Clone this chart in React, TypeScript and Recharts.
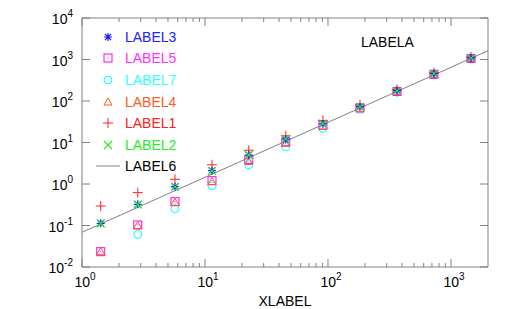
import React from "react";
import {
  Scatter,
  ScatterChart,
  XAxis,
  YAxis,
  Label,
} from "recharts";

const xValues = [1.42, 2.84, 5.7, 11.4, 22.7, 45.4, 91, 182, 364, 727, 1455];

const label3 = [0.113, 0.324, 0.86, 2.1, 5.0, 12.0, 28, 73, 178, 460, 1090];
const label2 = [0.112, 0.32, 0.85, 2.05, 5.0, 12.2, 28.5, 72, 176, 455, 1080];
const label1 = [0.295, 0.62, 1.3, 2.9, 6.5, 14.5, 34, 80, 190, 480, 1150];
const label5 = [0.0234, 0.103, 0.375, 1.2, 3.9, 10.4, 26, 68, 170, 440, 1060];
const label4 = [0.0234, 0.1, 0.36, 1.15, 3.5, 9.5, 25, 67, 168, 438, 1055];
const label7 = [null, 0.061, 0.254, 0.9, 2.9, 7.9, 22, 63, 162, 430, 1040];

const label6X = [1, 2000];
const label6Y = [0.0686, 1625];

const xTicks = [
  1, 2, 3, 4, 5, 6, 7, 8, 9,
  10, 20, 30, 40, 50, 60, 70, 80, 90,
  100, 200, 300, 400, 500, 600, 700, 800, 900,
  1000,
];
const yTicks = [0.01, 0.1, 1, 10, 100, 1000, 10000];

const FONT = '"Liberation Sans", Arial, sans-serif';
const AXIS = "#808080";

type Kind = "star" | "square" | "circle" | "triangle" | "plus" | "cross" | "line";

const series: { name: string; kind: Kind; color: string; values: (number | null)[] }[] = [
  { name: "LABEL7", kind: "circle", color: "#00ffff", values: label7 },
  { name: "LABEL5", kind: "square", color: "#ff00ff", values: label5 },
  { name: "LABEL4", kind: "triangle", color: "#ff5a1a", values: label4 },
  { name: "LABEL1", kind: "plus", color: "#ff2020", values: label1 },
  { name: "LABEL3", kind: "star", color: "#2020ff", values: label3 },
  { name: "LABEL2", kind: "cross", color: "#22ee22", values: label2 },
];

const legendOrder: { name: string; kind: Kind; color: string; text: string }[] = [
  { name: "LABEL3", kind: "star", color: "#2020ff", text: "#2020ff" },
  { name: "LABEL5", kind: "square", color: "#ff00ff", text: "#ff30ff" },
  { name: "LABEL7", kind: "circle", color: "#00ffff", text: "#30ffff" },
  { name: "LABEL4", kind: "triangle", color: "#ff5a1a", text: "#ff5a1a" },
  { name: "LABEL1", kind: "plus", color: "#ff2020", text: "#ff2020" },
  { name: "LABEL2", kind: "cross", color: "#22ee22", text: "#22ee22" },
  { name: "LABEL6", kind: "line", color: AXIS, text: "#000000" },
];

function Marker({ kind, color, cx, cy }: { kind: Kind; color: string; cx: number; cy: number }) {
  const r = 4;
  switch (kind) {
    case "circle":
      return <circle cx={cx} cy={cy} r={r} fill="none" stroke={color} strokeWidth={1} />;
    case "square":
      return (
        <g>
          <rect x={cx - r} y={cy - r} width={2 * r} height={2 * r} fill="none" stroke={color} strokeWidth={1} />
          <rect x={cx - 0.5} y={cy - 0.5} width={1} height={1} fill={color} />
        </g>
      );
    case "triangle":
      return (
        <polygon
          points={`${cx},${cy - r} ${cx - r},${cy + r - 1} ${cx + r},${cy + r - 1}`}
          fill="none"
          stroke={color}
          strokeWidth={1}
        />
      );
    case "plus":
      return (
        <path d={`M${cx - 5},${cy}H${cx + 5}M${cx},${cy - 5}V${cy + 5}`} stroke={color} strokeWidth={1} />
      );
    case "cross":
      return (
        <path
          d={`M${cx - r},${cy - r}L${cx + r},${cy + r}M${cx - r},${cy + r}L${cx + r},${cy - r}`}
          stroke={color}
          strokeWidth={1.2}
        />
      );
    case "star":
      return (
        <path
          d={`M${cx - r},${cy}H${cx + r}M${cx},${cy - r}V${cy + r}M${cx - 3},${cy - 3}L${cx + 3},${cy + 3}M${cx - 3},${cy + 3}L${cx + 3},${cy - 3}`}
          stroke={color}
          strokeWidth={1.2}
        />
      );
    case "line":
      return <path d={`M${cx - 12},${cy}H${cx + 12}`} stroke={color} strokeWidth={1} />;
  }
}

function isMajor(v: number) {
  const l = Math.log10(v);
  return Math.abs(l - Math.round(l)) < 1e-9;
}

function PowerLabel({ x, y, v, anchor }: { x: number; y: number; v: number; anchor: "middle" | "end" }) {
  const e = Math.round(Math.log10(v));
  return (
    <text x={x} y={y} textAnchor={anchor} fontFamily={FONT} fontSize={14} fill="#000">
      <tspan>10</tspan>
      <tspan dy={-7} fontSize={10}>{e}</tspan>
    </text>
  );
}

function BottomTick(props: any) {
  const { x, y, payload } = props;
  const major = isMajor(payload.value);
  return (
    <g>
      <line x1={x} y1={y} x2={x} y2={y - (major ? 8 : 4)} stroke={AXIS} />
      {major && <PowerLabel x={x + 3} y={y + 20} v={payload.value} anchor="middle" />}
    </g>
  );
}

function TopTick(props: any) {
  const { x, y, payload } = props;
  const major = isMajor(payload.value);
  return <line x1={x} y1={y} x2={x} y2={y + (major ? 8 : 4)} stroke={AXIS} />;
}

function LeftTick(props: any) {
  const { x, y, payload } = props;
  return (
    <g>
      <line x1={x} y1={y} x2={x + 8} y2={y} stroke={AXIS} />
      <PowerLabel x={x - 9} y={y + 6} v={payload.value} anchor="end" />
    </g>
  );
}

function RightTick(props: any) {
  const { x, y } = props;
  return <line x1={x} y1={y} x2={x - 8} y2={y} stroke={AXIS} />;
}

function LegendBox() {
  return (
    <div style={{ position: "absolute", left: 96, top: 26, fontFamily: FONT, fontSize: 14 }}>
      {legendOrder.map((item) => (
        <div key={item.name} style={{ display: "flex", alignItems: "center", height: 21.6 }}>
          <svg width={24} height={20} style={{ marginRight: 5 }}>
            <Marker kind={item.kind} color={item.color} cx={12} cy={10} />
          </svg>
          <span style={{ color: item.text }}>{item.name}</span>
        </div>
      ))}
    </div>
  );
}

export default function App() {
  const lineData = label6X.map((x, i) => ({ x, y: label6Y[i] }));
  return (
    <div style={{ position: "relative", width: 511, height: 309, background: "#fff" }}>
      <style>{"body{margin:0}"}</style>
      <ScatterChart width={511} height={309} margin={{ top: 17, right: 22, bottom: 0, left: 0 }}>
        <XAxis
          type="number"
          dataKey="x"
          scale="log"
          domain={[1, 2000]}
          allowDataOverflow
          ticks={xTicks}
          interval={0}
          height={42}
          tickSize={0}
          tickMargin={0}
          tickLine={false}
          axisLine={{ stroke: AXIS }}
          tick={<BottomTick />}
        >
          <Label
            content={({ viewBox }: any) => (
              <text
                x={viewBox.x + viewBox.width / 2}
                y={viewBox.y + 39}
                textAnchor="middle"
                fontFamily={FONT}
                fontSize={14}
                fill="#000"
              >
                XLABEL
              </text>
            )}
          />
        </XAxis>
        <XAxis
          xAxisId="top"
          orientation="top"
          type="number"
          dataKey="x"
          scale="log"
          domain={[1, 2000]}
          allowDataOverflow
          ticks={xTicks}
          interval={0}
          height={1}
          tickSize={0}
          tickMargin={0}
          tickLine={false}
          axisLine={{ stroke: AXIS }}
          tick={<TopTick />}
        />
        <YAxis
          type="number"
          dataKey="y"
          scale="log"
          domain={[0.01, 10000]}
          allowDataOverflow
          ticks={yTicks}
          interval={0}
          width={82}
          tickSize={0}
          tickMargin={0}
          tickLine={false}
          axisLine={{ stroke: AXIS }}
          tick={<LeftTick />}
        />
        <YAxis
          yAxisId="right"
          orientation="right"
          type="number"
          dataKey="y"
          scale="log"
          domain={[0.01, 10000]}
          allowDataOverflow
          ticks={yTicks}
          interval={0}
          width={1}
          tickSize={0}
          tickMargin={0}
          tickLine={false}
          axisLine={{ stroke: AXIS }}
          tick={<RightTick />}
        />
        <Scatter
          name="LABEL6"
          xAxisId="top"
          yAxisId="right"
          data={lineData}
          line={{ stroke: AXIS, strokeWidth: 1 }}
          shape={() => <g />}
          isAnimationActive={false}
        />
        {series.map((s) => (
          <Scatter
            key={s.name}
            name={s.name}
            data={xValues
              .map((x, i) => ({ x, y: s.values[i] }))
              .filter((d) => d.y !== null)}
            shape={(p: any) => <Marker kind={s.kind} color={s.color} cx={p.cx} cy={p.cy} />}
            isAnimationActive={false}
          />
        ))}
      </ScatterChart>
      <LegendBox />
      <div
        style={{
          position: "absolute",
          left: 361,
          top: 34,
          fontFamily: FONT,
          fontSize: 14,
          color: "#000",
        }}
      >
        LABELA
      </div>
    </div>
  );
}
